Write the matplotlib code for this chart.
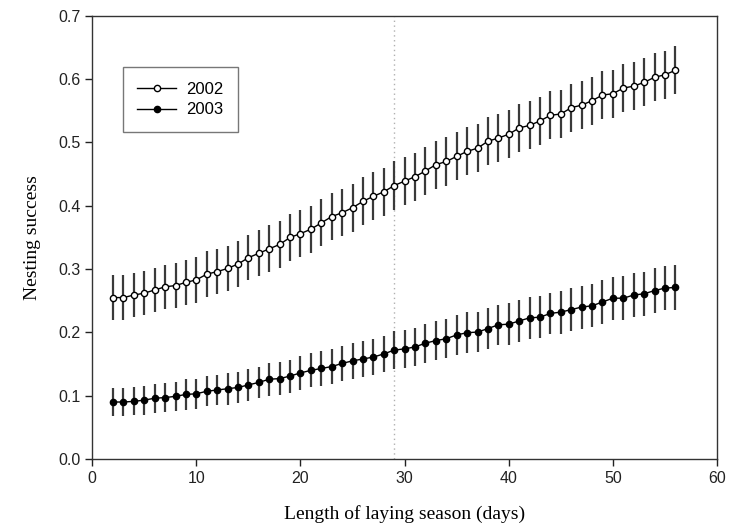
import matplotlib
matplotlib.use("Agg")
import matplotlib.pyplot as plt

# length of laying season (days)
days = list(range(2, 57))

# nesting success, 2002 (open circles)
success_2002 = [0.255, 0.255, 0.259, 0.262, 0.267, 0.272, 0.274, 0.279, 0.283,
                0.292, 0.296, 0.301, 0.308, 0.318, 0.325, 0.332, 0.339, 0.350, 0.356,
                0.363, 0.373, 0.383, 0.389, 0.397, 0.407, 0.415, 0.422, 0.432, 0.439,
                0.446, 0.455, 0.465, 0.470, 0.478, 0.486, 0.491, 0.502, 0.507, 0.513,
                0.523, 0.527, 0.534, 0.543, 0.545, 0.555, 0.559, 0.566, 0.575, 0.577,
                0.586, 0.589, 0.595, 0.603, 0.607, 0.614]
err_2002 = [0.035, 0.035, 0.035, 0.035, 0.035, 0.035, 0.035, 0.035, 0.036,
            0.036, 0.036, 0.036, 0.036, 0.036, 0.036, 0.037, 0.037, 0.037, 0.037,
            0.037, 0.037, 0.037, 0.037, 0.038, 0.038, 0.038, 0.038, 0.038, 0.038,
            0.038, 0.038, 0.038, 0.038, 0.038, 0.038, 0.038, 0.038, 0.038, 0.038,
            0.038, 0.038, 0.038, 0.038, 0.038, 0.038, 0.038, 0.038, 0.038, 0.038,
            0.038, 0.038, 0.038, 0.038, 0.038, 0.038]

# nesting success, 2003 (filled circles)
success_2003 = [0.090, 0.090, 0.091, 0.093, 0.096, 0.097, 0.099, 0.102, 0.103,
                0.107, 0.109, 0.111, 0.113, 0.117, 0.121, 0.126, 0.127, 0.131, 0.136,
                0.140, 0.143, 0.146, 0.151, 0.155, 0.158, 0.161, 0.166, 0.172, 0.174,
                0.177, 0.183, 0.187, 0.190, 0.196, 0.1995, 0.2005, 0.206, 0.212, 0.213,
                0.218, 0.223, 0.224, 0.230, 0.232, 0.236, 0.240, 0.242, 0.248, 0.254,
                0.254, 0.259, 0.261, 0.266, 0.270, 0.271]
err_2003 = [0.022, 0.022, 0.022, 0.023, 0.023, 0.023, 0.023, 0.024, 0.024,
            0.024, 0.024, 0.025, 0.025, 0.025, 0.025, 0.026, 0.026, 0.026, 0.027,
            0.027, 0.027, 0.028, 0.028, 0.028, 0.029, 0.029, 0.029, 0.030, 0.030,
            0.030, 0.031, 0.031, 0.031, 0.031, 0.032, 0.032, 0.032, 0.032, 0.033,
            0.033, 0.033, 0.033, 0.033, 0.034, 0.034, 0.034, 0.034, 0.034, 0.034,
            0.035, 0.035, 0.035, 0.035, 0.035, 0.035]

cutoff_day = 29

fig = plt.figure(figsize=(7.32, 5.30), dpi=100)
ax = fig.add_axes([0.126, 0.134, 0.8535, 0.836])

ax.axvline(cutoff_day, color="#b0b0b0", linestyle=(0, (1, 2.5)), linewidth=1, zorder=1)

eb02 = ax.errorbar(days, success_2002, yerr=err_2002, fmt="-o", color="black", lw=1,
                   ecolor="#3a3a3a", elinewidth=1.6, capsize=0, markersize=4.5,
                   markerfacecolor="white", markeredgecolor="black", markeredgewidth=1,
                   zorder=3)
eb03 = ax.errorbar(days, success_2003, yerr=err_2003, fmt="-o", color="black", lw=1,
                   ecolor="#3a3a3a", elinewidth=1.6, capsize=0, markersize=4.5,
                   markerfacecolor="black", markeredgecolor="black",
                   zorder=3)

ax.set_xlim(0, 60)
ax.set_ylim(0, 0.7)
ax.set_xticks([0, 10, 20, 30, 40, 50, 60])
ax.set_yticks([0.0, 0.1, 0.2, 0.3, 0.4, 0.5, 0.6, 0.7])
ax.set_yticklabels(["0.0", "0.1", "0.2", "0.3", "0.4", "0.5", "0.6", "0.7"])
ax.tick_params(direction="out", length=5, width=1, labelsize=11.5, colors="#222222")
for lbl in ax.get_xticklabels() + ax.get_yticklabels():
    lbl.set_family("Liberation Sans")
for sp in ax.spines.values():
    sp.set_color("#333333")
    sp.set_linewidth(1)

ax.set_xlabel("Length of laying season (days)", family="Liberation Serif",
              fontsize=14, labelpad=14)
ax.set_ylabel("Nesting success", family="Liberation Serif", fontsize=14, labelpad=12)

# legend shows just line + marker, no error bar
leg = ax.legend([eb02[0], eb03[0]], ["2002", "2003"], loc="upper left",
                bbox_to_anchor=(0.049, 0.8836), borderaxespad=0, fancybox=False,
                frameon=True, handlelength=2.35, handletextpad=0.6, borderpad=0.85,
                labelspacing=0.35, prop={"family": "Liberation Sans", "size": 12})
leg.get_frame().set_edgecolor("#555555")
leg.get_frame().set_linewidth(1)

fig.savefig("out.png", dpi=100)
